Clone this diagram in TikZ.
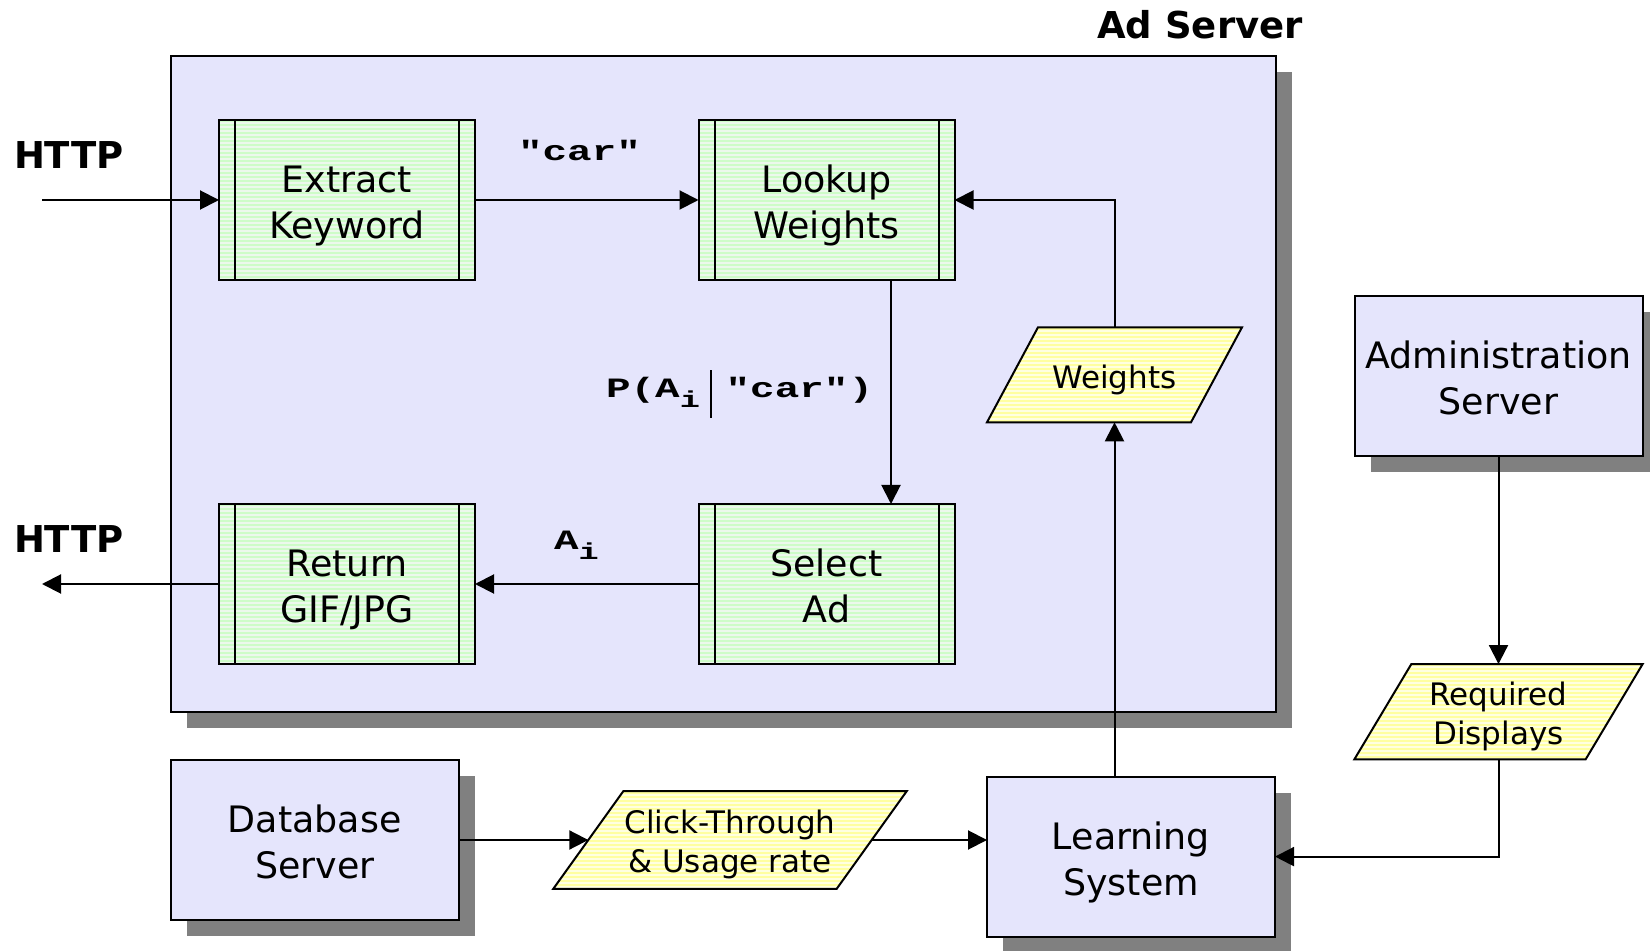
\documentclass[tikz,border=0pt]{standalone}
\usepackage{fontspec}
\setmainfont{DejaVu Sans}
\newfontfamily\monofnt{Liberation Mono}[FakeStretch=1.46]
\usetikzlibrary{arrows.meta,shadows,patterns.meta,calc}
\definecolor{lav}{RGB}{229,229,252}
\definecolor{grn}{RGB}{206,252,200}
\definecolor{grnline}{RGB}{236,248,236}
\definecolor{yel}{RGB}{255,255,160}
\definecolor{yelline}{RGB}{255,255,225}
\definecolor{shade}{RGB}{128,128,128}
\pgfdeclarelayer{back}
\pgfdeclarelayer{para}
\pgfsetlayers{back,para,main}
\newcommand\mch[1]{\makebox[12.3pt]{#1}}
% text block with fixed reported height/depth (first baseline as reference)
\newcommand\tx[3]{\raisebox{0pt}[#1][#2]{\begin{tabular}[t]{@{}c@{}}#3\end{tabular}}}
\newcommand\bt[1]{\tx{10pt}{17.5pt}{#1}}
\newcommand\pt[1]{\tx{6pt}{12.5pt}{#1}}
\newcommand\parashp[2]{%
  \begin{pgfonlayer}{para}
  \path[parashape] ($(#1.north west)+(#2,0)$) -- (#1.north east) -- ($(#1.south east)-(#2,0)$) -- (#1.south west) -- cycle;
  \end{pgfonlayer}}
\begin{document}
\begin{tikzpicture}[x=0.5pt,y=-0.5pt,
  every node/.style={outer sep=0pt},
  arr/.style={line width=1pt,-{Triangle[length=9.5pt,width=9.5pt]}},
  shadowed/.style={drop shadow={shadow xshift=8pt,shadow yshift=-8pt,fill=shade,opacity=1}},
  boxtext/.style={inner sep=0pt,font=\fontsize{18.2}{23}\selectfont},
  lavbox/.style={boxtext,draw,line width=1pt,fill=lav,minimum width=144pt,minimum height=80pt,shadowed},
  procbox/.style={boxtext,draw,line width=1pt,preaction={fill=grn},
    pattern={Lines[angle=0,distance=2pt,line width=0.6pt]},pattern color=grnline,
    minimum width=128pt,minimum height=80pt,
    path picture={\draw[line width=1pt]
      ([xshift=8pt]path picture bounding box.north west) -- ([xshift=8pt]path picture bounding box.south west)
      ([xshift=-8pt]path picture bounding box.north east) -- ([xshift=-8pt]path picture bounding box.south east);}},
  parashape/.style={draw,line width=1pt,preaction={fill=yel},
    pattern={Lines[angle=0,distance=2pt,line width=0.6pt]},pattern color=yelline},
  paratext/.style={inner sep=0pt,font=\fontsize{15.5}{19.5}\selectfont},
  boldlbl/.style={font=\bfseries\fontsize{18.5}{22}\selectfont,inner sep=0pt},
  monolbl/.style={font=\monofnt\bfseries\fontsize{14}{16}\selectfont,inner sep=0pt}
]
\useasboundingbox (0,0) rectangle (1650,951);

% Ad server container
\begin{pgfonlayer}{back}
\node[draw,line width=1pt,fill=lav,minimum width=552.5pt,minimum height=328.3pt,shadowed] (adbox) at (723,384) {};
\end{pgfonlayer}
\node[boldlbl,anchor=base] (adlbl) at (1200,38.5) {Ad Server};

% process boxes
\node[procbox] (extract) at (347,200) {\bt{Extract\\Keyword}};
\node[procbox] (lookup) at (826.5,200) {\bt{Lookup\\Weights}};
\node[procbox] (ret) at (347,584) {\bt{Return\\GIF/JPG}};
\node[procbox] (select) at (826.5,584) {\bt{Select\\Ad}};

% servers
\node[lavbox] (admin) at (1498.5,375.7) {\bt{Administration\\Server}};
\node[lavbox] (db) at (314.7,840) {\bt{Database\\Server}};
\node[lavbox] (learn) at (1131,856.6) {\bt{Learning\\System}};

% data parallelograms
\node[paratext,minimum width=127.5pt,minimum height=47.5pt] (weights) at (1114.5,374.8) {\tx{14pt}{0pt}{Weights}};
\parashp{weights}{51}
\node[paratext,minimum width=144.15pt,minimum height=47.65pt] (req) at (1498.5,711.7) {\pt{Required\\Displays}};
\parashp{req}{57}
\node[paratext,minimum width=176.7pt,minimum height=48.8pt] (ct) at (730,840) {\pt{Click-Through\\\& Usage rate}};
\parashp{ct}{70}
\coordinate (ctL) at ($(ct.west)+(35,0)$);
\coordinate (ctR) at ($(ct.east)-(35,0)$);

% labels
\node[boldlbl,anchor=base west] (httpa) at (14,168.5) {HTTP};
\node[boldlbl,anchor=base west] (httpb) at (14,552.5) {HTTP};
\node[monolbl,anchor=base west] (carlbl) at (518,161) {\mch{"}\mch{c}\mch{a}\mch{r}\mch{"}};
\node[monolbl,anchor=base west] (plbl) at (606,398) {\mch{P}\mch{(}\mch{A}\raisebox{-5pt}{\makebox[8pt][l]{\fontsize{11.5}{12}\selectfont i}}\hspace{7pt}\rule[-10pt]{0.9pt}{24pt}\hspace{7pt}\mch{"}\mch{c}\mch{a}\mch{r}\mch{"}\mch{)}};
\node[monolbl,anchor=base west] (ailbl) at (554,550) {\mch{A}\raisebox{-5pt}{\fontsize{11.5}{12}\selectfont i}};

% connectors
\coordinate (httpin) at (42,200);
\coordinate (httpout) at (42,584);
\draw[arr] (httpin) -- (extract.west);
\draw[arr] (extract.east) -- (lookup.west);
\draw[arr] ($(lookup.south)+(64.5,0)$) -- ($(select.north)+(64.5,0)$);
\draw[arr] (select.west) -- (ret.east);
\draw[arr] (ret.west) -- (httpout);
\draw[arr] (weights.north) |- (lookup.east);
\draw[arr] (weights.south |- learn.north) -- (weights.south);
\draw[arr] (admin.south) -- (req.north);
\draw[arr] (req.south) |- (learn.east);
\draw[arr] (db.east) -- (ctL);
\draw[arr] (ctR) -- (ctR -| learn.west);
\end{tikzpicture}
\end{document}
